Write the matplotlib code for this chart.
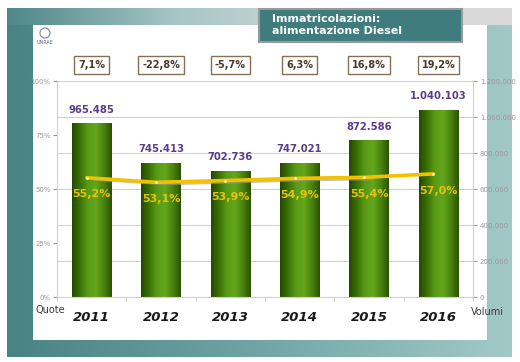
import matplotlib
matplotlib.use('Agg')
import matplotlib.pyplot as plt
import numpy as np
from matplotlib.colors import LinearSegmentedColormap
from matplotlib.patches import Rectangle, Circle

# ---- data ----
years = ['2011', '2012', '2013', '2014', '2015', '2016']
volumes = [965485, 745413, 702736, 747021, 872586, 1040103]
shares = [55.2, 53.1, 53.9, 54.9, 55.4, 57.0]
growth = ['7,1%', '-22,8%', '-5,7%', '6,3%', '16,8%', '19,2%']
vol_ticks = [0, 200000, 400000, 600000, 800000, 1000000, 1200000]
pct_ticks = [0, 25, 50, 75, 100]
title_lines = 'Immatricolazioni:\nalimentazione Diesel'


def it_num(v):
    return f"{v:,}".replace(',', '.')


def it_pct(v):
    return f"{v:.1f}%".replace('.', ',')


W, H = 520, 362
fig = plt.figure(figsize=(W / 100, H / 100), dpi=100)
fig.patch.set_facecolor('white')

# ---- background decoration (pixel coordinates) ----
bg = fig.add_axes([0, 0, 1, 1])
bg.axis('off')
grad = np.linspace(0, 1, 256).reshape(1, -1)
cmap_bg = LinearSegmentedColormap.from_list('bg', ['#4a8384', '#62999a', '#80b2b0', '#a3c9c7'])
bg.imshow(grad, cmap=cmap_bg, extent=(7, 512, 357, 8), aspect='auto', zorder=0)
cmap_top = LinearSegmentedColormap.from_list('top', ['#4f8788', '#a6c6c5', '#d6d8d8', '#d9d9d9'])
bg.imshow(grad, cmap=cmap_top, extent=(7, 512, 25, 8), aspect='auto', zorder=0.5)
bg.add_patch(Rectangle((33, 25), 454, 315, facecolor='white', edgecolor='none', zorder=1))
bg.add_patch(Rectangle((259, 9), 203, 33, facecolor='#3e7c7d', edgecolor='#9a9a9a', lw=1.5, zorder=2))
bg.text(272, 25, title_lines, color='white', fontsize=8, fontweight='bold',
        va='center', ha='left', linespacing=1.2, zorder=3)
bg.add_patch(Circle((45, 33), 5, facecolor='none', edgecolor='#7a8a9a', lw=0.8, zorder=3))
bg.text(45, 42, 'UNRAE', fontsize=3.5, color='#5a6a8a', ha='center', va='center', zorder=3)
bg.set_xlim(0, W)
bg.set_ylim(H, 0)

# ---- main axes: volumes (bars, right axis) ----
ax = fig.add_axes([57 / W, 1 - 297 / H, 416 / W, 216 / H])
ax.set_facecolor('none')
ax2 = ax.twinx()

x = np.arange(len(years))
bars = ax.bar(x, volumes, width=0.57, color='#3d7a0a', zorder=2)

cmap_bar = LinearSegmentedColormap.from_list(
    'bar', ['#244800', '#3a7206', '#5a9a16', '#64a61c', '#4a8410', '#2a5200'])
for b in bars:
    im = ax.imshow(grad, cmap=cmap_bar, aspect='auto', zorder=2.5,
                   extent=(b.get_x(), b.get_x() + b.get_width(), 0, b.get_height()))
    im.set_clip_path(b)
ax.set_xlim(-0.5, len(years) - 0.5)
ax.set_ylim(0, 1200000)

for i, v in enumerate(volumes):
    ax.annotate(it_num(v), (x[i], v), xytext=(0, 6), textcoords='offset points',
                ha='center', va='bottom', fontsize=7.2, fontweight='bold', color='#5a3d8a', zorder=5)

ax.yaxis.tick_right()
ax.set_yticks(vol_ticks)
ax.set_yticklabels([it_num(v) for v in vol_ticks])
ax.tick_params(axis='y', labelsize=5, colors='#999999', length=3, pad=2)
ax.yaxis.grid(True, color='#d2d2d2', lw=0.8)
ax.set_axisbelow(True)
ax.set_xticks(x)
ax.set_xticklabels(years, fontsize=9.5, fontweight='bold', style='italic', color='#1a1a1a')
ax.set_xticks(np.arange(-0.5, len(years), 1), minor=True)
ax.tick_params(axis='x', which='major', length=0, pad=10)
ax.tick_params(axis='x', which='minor', length=3, color='#c8c8c8')
for s in ['top', 'left']:
    ax.spines[s].set_visible(False)
ax.spines['right'].set_color('#d0d0d0')
ax.spines['bottom'].set_color('#d0d0d0')

# ---- share line (left axis) ----
ax2.set_ylim(0, 100)
ax2.yaxis.tick_left()
ax2.set_yticks(pct_ticks)
ax2.set_yticklabels([f"{t}%" for t in pct_ticks])
ax2.tick_params(axis='y', labelsize=5, colors='#999999', length=3, pad=1.5)
for s in ['top', 'right', 'bottom']:
    ax2.spines[s].set_visible(False)
ax2.spines['left'].set_color('#d0d0d0')

ax2.plot(x[:-1] + 0.05, np.array(shares[:-1]) - 0.8, color='#9a9a9a', lw=1.8, alpha=0.6, zorder=3)
ax2.plot(x - 0.07, shares, color='#f2c200', lw=2.6, zorder=4, solid_capstyle='round',
         marker='o', markersize=2, markerfacecolor='#fff3b0', markeredgecolor='none')
for i, s in enumerate(shares):
    ax2.annotate(it_pct(s), (x[i], s), xytext=(0, -12), textcoords='offset points',
                 ha='center', va='center', fontsize=8, fontweight='bold', color='#e8c20a', zorder=5)

for i, g in enumerate(growth):
    ax2.text(x[i], 107.5, g, ha='center', va='center', fontsize=7, fontweight='bold',
             color='#4a3a2a', clip_on=False,
             bbox=dict(boxstyle='square,pad=0.4', fc='white', ec='#8a6d55', lw=1))

fig.text(36 / W, 1 - 310 / H, 'Quote', fontsize=7, color='#3a3a3a', ha='left', va='center')
fig.text(471 / W, 1 - 312 / H, 'Volumi', fontsize=7, color='#3a3a3a', ha='left', va='center')

fig.savefig('out.png', dpi=100)
